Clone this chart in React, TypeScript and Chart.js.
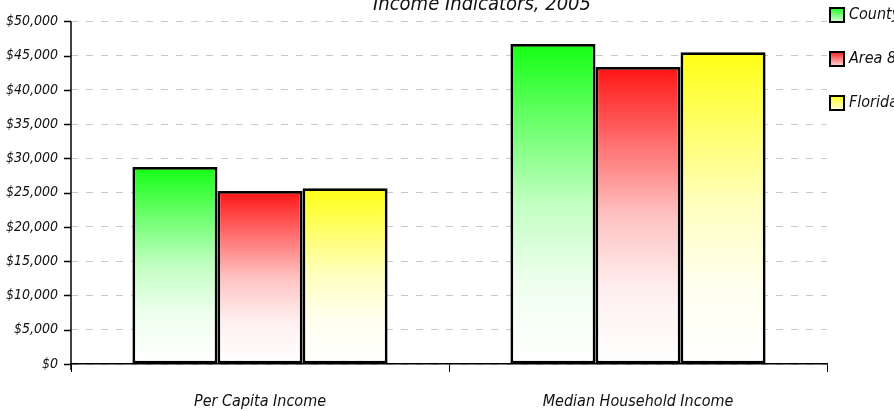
import React, { useEffect, useRef } from "react";
import { Chart, registerables } from "chart.js";

Chart.register(...registerables);

const categories = ["Per Capita Income", "Median Household Income"];
const seriesLabels = ["County", "Area 8", "Florida"];
const countyValues = [28750, 46700];
const areaValues = [25250, 43350];
const floridaValues = [25650, 45500];
const seriesColors: [number, number, number][] = [
  [20, 255, 20],
  [255, 20, 20],
  [255, 255, 20],
];
const chartTitle = "Income Indicators, 2005";
const yMin = 0;
const yMax = 50000;
const yStep = 5000;

const FONT = "'Liberation Sans Narrow', 'DejaVu Sans Condensed', sans-serif";

function mix(c: [number, number, number], w: number) {
  const r = Math.round(c[0] + (255 - c[0]) * w);
  const g = Math.round(c[1] + (255 - c[1]) * w);
  const b = Math.round(c[2] + (255 - c[2]) * w);
  return `rgb(${r},${g},${b})`;
}

function addStops(g: CanvasGradient, c: [number, number, number]) {
  g.addColorStop(0, mix(c, 0));
  g.addColorStop(0.25, mix(c, 0.38));
  g.addColorStop(0.5, mix(c, 0.74));
  g.addColorStop(0.75, mix(c, 0.93));
  g.addColorStop(1, mix(c, 1));
}

function gradientFill(color: [number, number, number]) {
  return (ctx: any) => {
    const chart = ctx.chart;
    const y = chart.scales && chart.scales.y;
    if (!y || ctx.type !== "data") return mix(color, 0);
    const top = y.getPixelForValue(ctx.raw);
    const bottom = y.getPixelForValue(0);
    if (!isFinite(top) || !isFinite(bottom) || top === bottom) return mix(color, 0);
    const g = chart.ctx.createLinearGradient(0, top, 0, bottom);
    addStops(g, color);
    return g;
  };
}

const overlayPlugin = {
  id: "overlay",
  afterDraw(chart: any) {
    const c = chart.ctx;
    const area = chart.chartArea;
    const ys = chart.scales.y;
    c.save();
    c.strokeStyle = "#000";
    c.lineWidth = 1.5;
    c.beginPath();
    c.moveTo(area.left, area.top);
    c.lineTo(area.left, area.bottom + 6);
    c.stroke();
    ys.ticks.forEach((t: any) => {
      const py = Math.round(ys.getPixelForValue(t.value)) + 0.5;
      c.beginPath();
      c.moveTo(area.left - 7, py);
      c.lineTo(area.left, py);
      c.stroke();
    });
    c.fillStyle = "#111";
    c.font = `italic 20px ${FONT}`;
    c.textAlign = "center";
    c.textBaseline = "alphabetic";
    c.fillText(chartTitle, 482, 10);
    const x0 = area.right + 3;
    seriesLabels.forEach((lab, i) => {
      const yTop = 8 + i * 44;
      const g = c.createLinearGradient(0, yTop, 0, yTop + 14);
      g.addColorStop(0, mix(seriesColors[i], 0.05));
      g.addColorStop(1, mix(seriesColors[i], 0.85));
      c.fillStyle = g;
      c.fillRect(x0, yTop, 14, 14);
      c.lineWidth = 2;
      c.strokeStyle = "#000";
      c.strokeRect(x0, yTop, 14, 14);
      c.fillStyle = "#111";
      c.font = `italic 16px ${FONT}`;
      c.textAlign = "left";
      c.textBaseline = "middle";
      c.fillText(lab, x0 + 19, yTop + 7);
    });
    c.restore();
  },
};

export default function App() {
  const ref = useRef<HTMLCanvasElement | null>(null);
  useEffect(() => {
    if (!ref.current) return;
    const seriesValues = [countyValues, areaValues, floridaValues];
    const chart = new Chart(ref.current, {
      type: "bar",
      data: {
        labels: categories,
        datasets: seriesLabels.map((label, i) => ({
          label,
          data: seriesValues[i],
          backgroundColor: gradientFill(seriesColors[i]),
          borderColor: "#000",
          borderWidth: 2.8,
          borderSkipped: false,
          categoryPercentage: 0.675,
          barPercentage: 1,
        })),
      },
      options: {
        animation: false,
        responsive: false,
        maintainAspectRatio: false,
        layout: { padding: { top: 21, right: 67, left: 0, bottom: 0 } },
        plugins: {
          legend: { display: false },
          title: { display: false },
          tooltip: { enabled: false },
        },
        scales: {
          x: {
            afterFit(scale: any) {
              scale.height = 47;
            },
            grid: {
              drawOnChartArea: false,
              drawTicks: true,
              tickLength: 8,
              color: "#000",
              tickColor: "#000",
              offset: true,
            },
            border: { color: "#000", width: 1.5 },
            ticks: {
              color: "#111",
              padding: 20,
              font: { family: FONT, size: 16, style: "italic" },
            },
          },
          y: {
            min: yMin,
            max: yMax,
            afterFit(scale: any) {
              scale.width = 71;
            },
            grid: {
              color: "#c8c8c8",
              lineWidth: 1,
              tickLength: 7,
              drawTicks: false,
            },
            border: { display: false, color: "#000", width: 1.5, dash: [7, 8] },
            ticks: {
              stepSize: yStep,
              color: "#111",
              padding: 13,
              font: { family: FONT, size: 14, style: "italic" },
              callback: (v: any) => "$" + Number(v).toLocaleString("en-US"),
            },
          },
        },
      },
      plugins: [overlayPlugin],
    });
    return () => chart.destroy();
  }, []);
  return (
    <div style={{ position: "fixed", left: 0, top: 0, width: 894, height: 411 }}>
      <canvas ref={ref} width={894} height={411} style={{ width: 894, height: 411 }} />
    </div>
  );
}
